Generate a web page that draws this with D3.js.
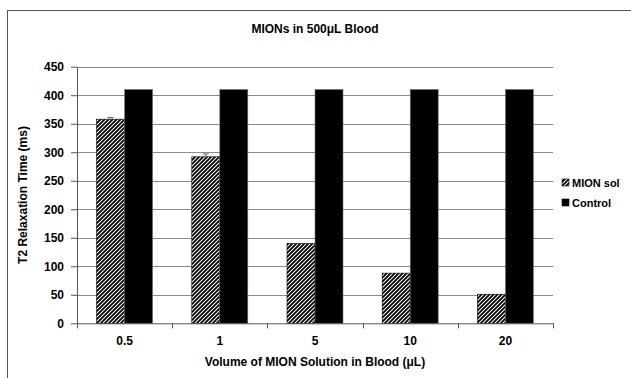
<!DOCTYPE html>
<html><head><meta charset="utf-8">
<script src="https://cdn.jsdelivr.net/npm/d3@7"></script>
<style>body{margin:0;background:#fff}svg{display:block}text{font-family:"Liberation Sans",Arial,sans-serif;font-weight:bold;fill:#000}</style>
</head><body><svg id="c" width="631" height="378"></svg>
<script>
const categories = ["0.5", "1", "5", "10", "20"];
const mionValues = [358, 292, 140, 88, 51];
const mionErrors = [3, 5, 0, 0, 0];
const controlValues = [410, 410, 410, 410, 410];
const seriesNames = ["MION sol", "Control"];
const yTicks = [0, 50, 100, 150, 200, 250, 300, 350, 400, 450];

const svg = d3.select("#c");
const L = 77, R = 553, T = 66.7, B = 323.3;

// pattern
const defs = svg.append("defs");
const pat = defs.append("pattern").attr("id","hatch").attr("patternUnits","userSpaceOnUse")
  .attr("width",4).attr("height",4);
pat.append("rect").attr("width",4).attr("height",4).attr("fill","#fff");
pat.append("path").attr("d","M-1,1 l2,-2 M0,4 l4,-4 M3,5 l2,-2").attr("stroke","#000").attr("stroke-width",1.8);

// chart border
svg.append("rect").attr("x",7.5).attr("y",10.5).attr("width",700).attr("height",500)
  .attr("fill","none").attr("stroke","#555");

const x = d3.scaleBand().domain(categories).range([L,R]);
const y = d3.scaleLinear().domain([0,450]).range([B,T]);

// gridlines
svg.append("g").selectAll("line").data(yTicks.filter(d=>d>0)).join("line")
  .attr("x1",L).attr("x2",R).attr("y1",d=>Math.round(y(d))+0.5).attr("y2",d=>Math.round(y(d))+0.5)
  .attr("stroke","#8a8a8a");

const bw = 28;
const g = svg.append("g");
g.selectAll("rect.m").data(mionValues).join("rect").attr("class","m")
  .attr("x",(d,i)=>x(categories[i])+x.bandwidth()/2-bw).attr("width",bw)
  .attr("y",d=>y(d)).attr("height",d=>B-y(d))
  .attr("fill","url(#hatch)").attr("stroke","#000").attr("stroke-width",0.6);
g.selectAll("rect.c").data(controlValues).join("rect").attr("class","c")
  .attr("x",(d,i)=>x(categories[i])+x.bandwidth()/2).attr("width",bw)
  .attr("y",d=>y(d)).attr("height",d=>B-y(d))
  .attr("fill","#000").attr("stroke","#777").attr("stroke-width",0.6);

// error bars
const eb = g.append("g").attr("stroke","#666").attr("stroke-width",1);
mionValues.forEach((v,i)=>{
  const e = mionErrors[i]; if(!e) return;
  const cx = x(categories[i])+x.bandwidth()/2-bw/2;
  eb.append("line").attr("x1",cx).attr("x2",cx).attr("y1",y(v)).attr("y2",y(v+e));
  eb.append("line").attr("x1",cx-3).attr("x2",cx+3).attr("y1",y(v+e)).attr("y2",y(v+e));
});

// y axis
const ya = svg.append("g").attr("transform",`translate(${L},0)`)
  .call(d3.axisLeft(y).tickValues(yTicks).tickSize(6).tickPadding(7).tickSizeOuter(0));
ya.select(".domain").attr("stroke","#555");
ya.selectAll(".tick line").attr("stroke","#555");
ya.selectAll("text").attr("font-size","12px").style("font-family",'"Liberation Sans",Arial,sans-serif').style("font-weight","bold");

// x axis
const xa = svg.append("g").attr("transform",`translate(0,${B})`)
  .call(d3.axisBottom(x).tickSize(0).tickPadding(13));
xa.select(".domain").attr("stroke","#555").attr("d",`M${L},0.5H${R}`);
xa.selectAll("text").attr("font-size","12px").style("font-family",'"Liberation Sans",Arial,sans-serif').style("font-weight","bold");
const bounds = categories.map(c=>x(c)).concat([R]);
xa.append("g").selectAll("line").data(bounds).join("line")
  .attr("x1",d=>Math.round(d)+0.5).attr("x2",d=>Math.round(d)+0.5).attr("y1",0).attr("y2",5).attr("stroke","#555");

// titles
svg.append("text").attr("x",(L+R)/2).attr("y",33).attr("text-anchor","middle").attr("font-size","12px")
  .text("MIONs in 500μL Blood");
svg.append("text").attr("x",(L+R)/2).attr("y",366).attr("text-anchor","middle").attr("font-size","12px")
  .text("Volume of MION Solution in Blood (μL)");
svg.append("text").attr("transform",`translate(27,${(T+B)/2}) rotate(-90)`).attr("text-anchor","middle").attr("font-size","12px")
  .text("T2 Relaxation Time (ms)");

// legend
const lg = svg.append("g");
const ly = [183, 203];
seriesNames.forEach((n,i)=>{
  lg.append("rect").attr("x",562).attr("y",ly[i]-4).attr("width",7).attr("height",7)
    .attr("fill", i===0 ? "url(#hatch)" : "#000").attr("stroke","#000").attr("stroke-width",0.6);
  lg.append("text").attr("x",572).attr("y",ly[i]+4).attr("font-size","11px").text(n);
});
</script></body></html>
